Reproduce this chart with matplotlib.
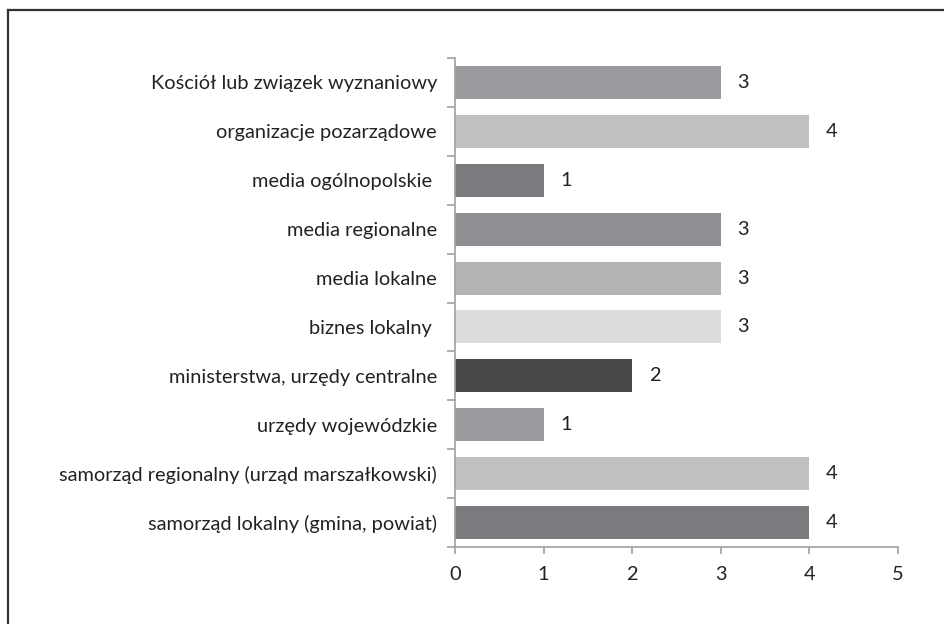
import matplotlib
matplotlib.use('Agg')
import matplotlib.pyplot as plt
from matplotlib.lines import Line2D

plt.rcParams['font.family'] = ['Lato', 'DejaVu Sans']

# kategorie od dołu do góry
categories = ['samorząd lokalny (gmina, powiat)',
              'samorząd regionalny (urząd marszałkowski)',
              'urzędy wojewódzkie',
              'ministerstwa, urzędy centralne',
              'biznes lokalny ',
              'media lokalne',
              'media regionalne',
              'media ogólnopolskie ',
              'organizacje pozarządowe',
              'Kościół lub związek wyznaniowy']
values = [4, 4, 1, 2, 3, 3, 3, 1, 4, 3]
colors = ['#7b7b7f', '#bfc0c2', '#9a9a9e', '#48484a', '#dcdcdd',
          '#b3b3b6', '#8f8f93', '#7b7b7f', '#bfc0c2', '#9a9a9e']
xticks = [0, 1, 2, 3, 4, 5]

fs = 14.4
fig = plt.figure(figsize=(9.44, 6.24), dpi=100)
ax = fig.add_axes([0.482, 0.1234, 0.469, 0.7836])

pos = list(range(len(categories)))
ax.barh(pos, values, height=0.675, color=colors)

for p, v in zip(pos, values):
    ax.annotate(str(v), (v, p), xytext=(12, 0), textcoords='offset points',
                va='center', ha='left', fontsize=fs, color='#222222')

ax.set_xlim(0, 5)
ax.set_ylim(-0.5, len(categories) - 0.5)
ax.set_xticks(xticks)
ax.set_xticklabels([str(t) for t in xticks], fontsize=fs, color='#222222')

ax.set_yticks(pos)
ax.set_yticklabels(categories, fontsize=fs, color='#222222')
ax.tick_params(axis='y', length=0, pad=13)
ax.set_yticks([p - 0.5 for p in pos] + [len(categories) - 0.5], minor=True)
ax.tick_params(axis='y', which='minor', length=6, color='#a0a0a0', width=1.2)
ax.tick_params(axis='x', length=5, color='#a0a0a0', width=1.2, pad=9)

for s in ['top', 'right']:
    ax.spines[s].set_visible(False)
for s in ['left', 'bottom']:
    ax.spines[s].set_color('#a0a0a0')
    ax.spines[s].set_linewidth(1.2)

# ramka wokół wykresu
fig.add_artist(Line2D([8 / 944, 8 / 944], [0, 1 - 10 / 624], color='#333333', lw=1.6))
fig.add_artist(Line2D([8 / 944, 1], [1 - 10 / 624, 1 - 10 / 624], color='#333333', lw=1.6))

fig.savefig('out.png', dpi=100)
